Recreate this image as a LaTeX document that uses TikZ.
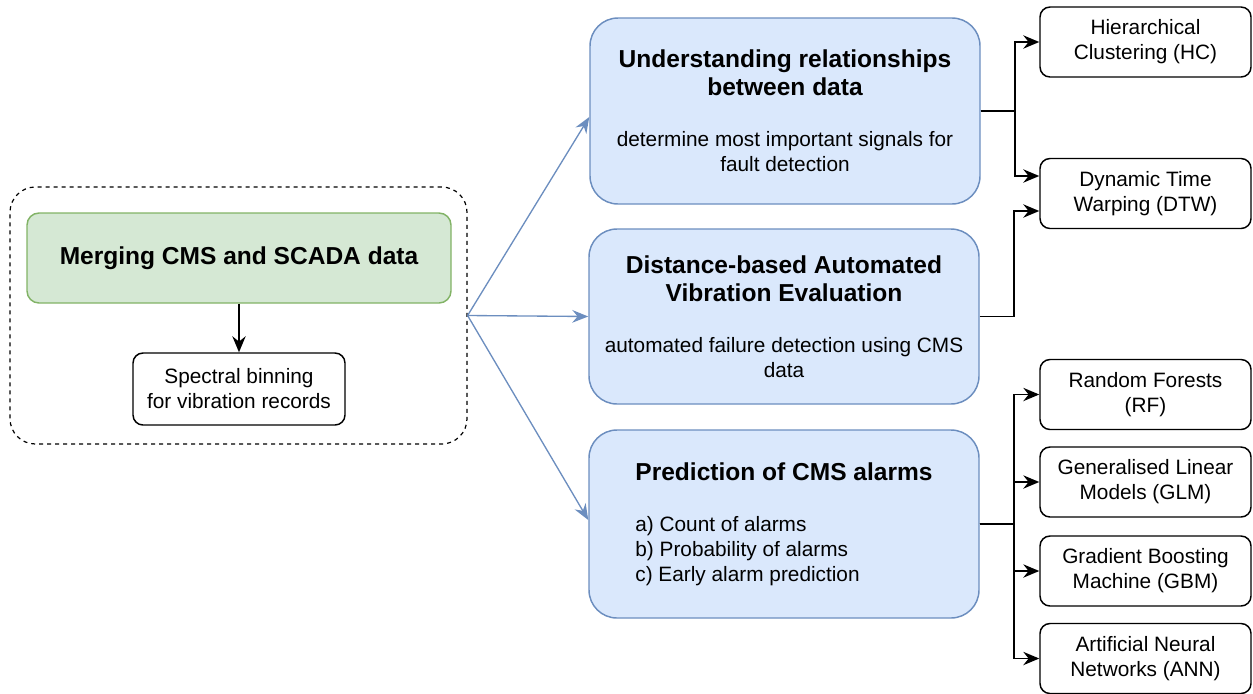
\documentclass[tikz,border=0pt]{standalone}
\usepackage{fontspec}
\setmainfont{Liberation Sans}
\usepackage{xcolor}
\usepackage{tikz}
\usetikzlibrary{arrows.meta, positioning, calc}

\definecolor{mergefill}{HTML}{D5E8D4}
\definecolor{mergeline}{HTML}{82B366}
\definecolor{taskfill}{HTML}{DAE8FC}
\definecolor{taskline}{HTML}{6C8EBF}

\newcommand{\boxtitle}{\fontsize{18.4}{21}\selectfont\bfseries}
\newcommand{\boxtext}{\fontsize{15.6}{18.8}\selectfont\mdseries}

\begin{document}
\begin{tikzpicture}[x=0.75pt, y=-0.75pt,
    frame/.style={draw, dashed, dash pattern=on 3pt off 3pt, line width=0.9pt, rounded corners=19pt},
    task/.style={draw=taskline, fill=taskfill, line width=1.1pt, rounded corners=21pt, align=center, minimum width=292.5pt, font=\boxtitle},
    method/.style={draw, line width=1.1pt, rounded corners=7.5pt, align=center, minimum width=158.25pt, minimum height=52.5pt, font=\boxtext},
    link/.style={-{Stealth[length=12pt, width=10pt, inset=4pt]}, line width=1.3pt},
    feed/.style={-{Stealth[length=12pt, width=9.5pt, inset=4pt]}, draw=taskline, line width=1pt}]

    \useasboundingbox (0, 0) rectangle (1253, 693);

    % preprocessing
    \node [frame, minimum width=342.75pt, minimum height=192.75pt] (prep) at (238.5, 315.5) {};
    \node [draw=mergeline, fill=mergefill, line width=1.1pt, rounded corners=9pt, minimum width=318pt, minimum height=67.5pt, font=\boxtitle] (merge) at (239, 258) {Merging CMS and SCADA data};
    \node [method, minimum width=159pt, minimum height=54pt] (binning) at (239, 389) {Spectral binning\\for vibration records};

    % analysis tasks
    \node [task, minimum height=139.5pt] (relation) at (785, 111) {Understanding relationships\\between data\\[17.5pt] \boxtext determine most important signals for\\[-2.3pt]\boxtext fault detection};
    \node [task, minimum height=131.25pt] (dave) at (784, 316.5) {Distance-based Automated\\Vibration Evaluation\\[17.5pt] \boxtext automated failure detection using CMS\\[-2.3pt]\boxtext data};
    \node [task, minimum height=141pt, align=left] (alarms) at (784, 524) {Prediction of CMS alarms\\[17pt] \boxtext a) Count of alarms\\[-2.3pt]\boxtext b) Probability of alarms\\[-2.3pt]\boxtext c) Early alarm prediction};

    % methods
    \node [method] (hc) at (1145.5, 42) {Hierarchical\\Clustering (HC)};
    \node [method] (dtw) at (1145.5, 193.5) {Dynamic Time\\Warping (DTW)};
    \node [method] (rf) at (1145.5, 394.5) {Random Forests\\(RF)};
    \node [method] (glm) at (1145.5, 482) {Generalised Linear\\Models (GLM)};
    \node [method] (gbm) at (1145.5, 571) {Gradient Boosting\\Machine (GBM)};
    \node [method] (ann) at (1145.5, 658.5) {Artificial Neural\\Networks (ANN)};

    \draw [link] (merge.south) -- (binning.north);

    \draw [feed] (prep.east) -- ($(relation.west)+(0, 6)$);
    \draw [feed] (prep.east) -- (dave.west);
    \draw [feed] (prep.east) -- ($(alarms.west)+(0, -4)$);

    \draw [link] (relation.east) -- ++(34, 0) |- (hc.west);
    \draw [link] (relation.east) -- ++(34, 0) |- ($(dtw.west)+(0, -17.5)$);
    \draw [link] (dave.east) -- ++(34, 0) |- ($(dtw.west)+(0, 17.5)$);
    \foreach \m in {rf, glm, gbm, ann}
        \draw [link] (alarms.east) -- ++(34, 0) |- (\m.west);
\end{tikzpicture}
\end{document}
